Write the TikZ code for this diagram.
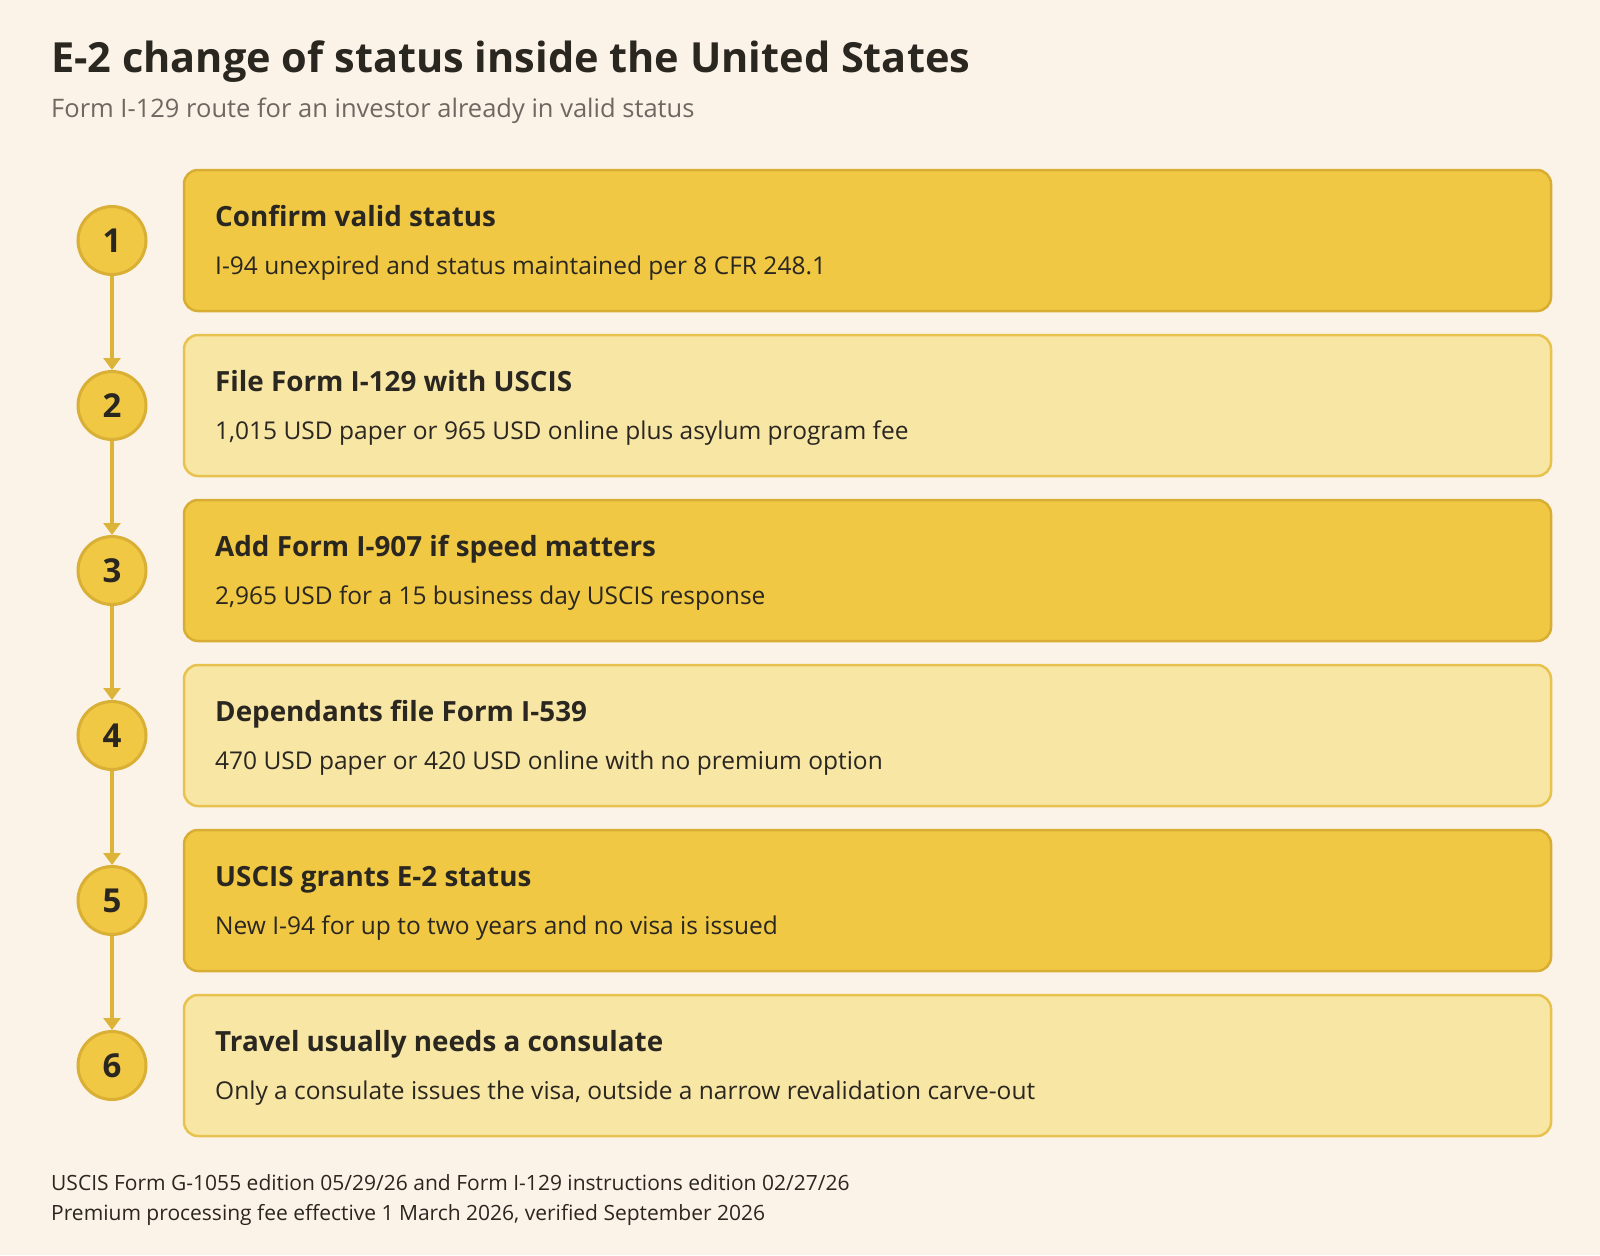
\documentclass[tikz,border=0pt]{standalone}
\usepackage{fontspec}
\setmainfont{Open Sans}
\usetikzlibrary{arrows.meta}
\definecolor{bg}{HTML}{FCF3E8}
\definecolor{boxdark}{HTML}{F0C843}
\definecolor{boxdarkline}{HTML}{D8AD33}
\definecolor{boxlight}{HTML}{F8E6A5}
\definecolor{boxlightline}{HTML}{E8C24E}
\definecolor{circline}{HTML}{D9AF36}
\definecolor{connline}{HTML}{DDB43A}
\definecolor{ink}{HTML}{2A2620}
\definecolor{subink}{HTML}{6E6862}
\newcommand\stepitem[4]{%
  \pgfmathsetmacro\cy{240.5+165*(#1-1)}%
  \node[#2, minimum width=1367pt, minimum height=141pt] (b#1) at (867.5,\cy) {};
  \node[numcirc] (c#1) at (112,\cy) {#1};
  \node[boxtitle] (t#1) at (215,\cy-14.5) {#3};
  \node[boxdesc] (d#1) at (215,\cy+33.5) {#4};
}
\begin{document}
\begin{tikzpicture}[x=1pt,y=-1pt,
  darkbox/.style={draw=boxdarkline, fill=boxdark, line width=2.5pt, rounded corners=14pt, inner sep=0pt},
  lightbox/.style={draw=boxlightline, fill=boxlight, line width=2.5pt, rounded corners=14pt, inner sep=0pt},
  numcirc/.style={circle, draw=circline, fill=boxdark, line width=3pt, minimum size=68pt, inner sep=0pt, text=ink, font=\fontsize{33}{36}\selectfont\bfseries},
  boxtitle/.style={anchor=base west, inner sep=0pt, text=ink, font=\fontsize{27.8}{32}\selectfont\bfseries},
  boxdesc/.style={anchor=base west, inner sep=0pt, text=ink, font=\fontsize{24.5}{28}\selectfont},
  conn/.style={draw=connline, line width=4pt, -{Triangle[width=17pt,length=12pt]}},
  foot/.style={anchor=base west, inner sep=0pt, text=ink, font=\fontsize{21}{25}\selectfont}]
\fill[bg] (0,0) rectangle (1600,1255);
\path[use as bounding box] (0,0) rectangle (1600,1255);
\node[anchor=base west, inner sep=0pt, text=ink, font=\fontsize{41.5}{48}\selectfont\bfseries] (title) at (51,72) {E-2 change of status inside the United States};
\node[anchor=base west, inner sep=0pt, text=subink, font=\fontsize{25.5}{30}\selectfont] (subtitle) at (51,117) {Form I-129 route for an investor already in valid status};
\stepitem{1}{darkbox}{Confirm valid status}{I-94 unexpired and status maintained per 8 CFR 248.1}
\stepitem{2}{lightbox}{File Form I-129 with USCIS}{1,015 USD paper or 965 USD online plus asylum program fee}
\stepitem{3}{darkbox}{Add Form I-907 if speed matters}{2,965 USD for a 15 business day USCIS response}
\stepitem{4}{lightbox}{Dependants file Form I-539}{470 USD paper or 420 USD online with no premium option}
\stepitem{5}{darkbox}{USCIS grants E-2 status}{New I-94 for up to two years and no visa is issued}
\stepitem{6}{lightbox}{Travel usually needs a consulate}{Only a consulate issues the visa, outside a narrow revalidation carve-out}
\draw[conn] (c1) -- (c2);
\draw[conn] (c2) -- (c3);
\draw[conn] (c3) -- (c4);
\draw[conn] (c4) -- (c5);
\draw[conn] (c5) -- (c6);
\node[foot] (f1) at (51,1190) {USCIS Form G-1055 edition 05/29/26 and Form I-129 instructions edition 02/27/26};
\node[foot] (f2) at (51,1220) {Premium processing fee effective 1 March 2026, verified September 2026};
\end{tikzpicture}
\end{document}
